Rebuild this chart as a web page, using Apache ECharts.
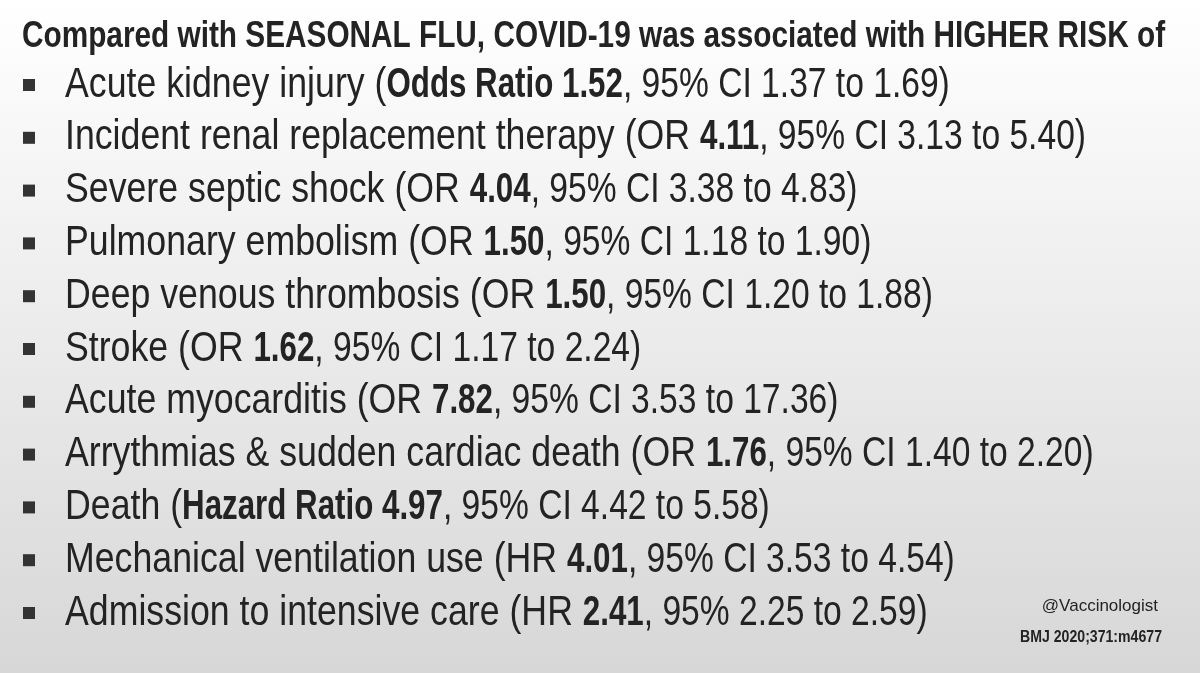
<!DOCTYPE html>
<html><head><meta charset="utf-8">
<script src="https://cdn.jsdelivr.net/npm/echarts@6/dist/echarts.min.js"></script>
<style>html,body{margin:0;padding:0;}#c{width:1200px;height:673px;}</style>
</head><body><div id="c"></div>
<script>
const titleText = 'Compared with SEASONAL FLU, COVID-19 was associated with HIGHER RISK of';
const outcomes = ['Acute kidney injury','Incident renal replacement therapy','Severe septic shock','Pulmonary embolism','Deep venous thrombosis','Stroke','Acute myocarditis','Arrythmias & sudden cardiac death','Death','Mechanical ventilation use','Admission to intensive care'];
const measures = ['Odds Ratio','OR','OR','OR','OR','OR','OR','OR','Hazard Ratio','HR','HR'];
const estimates = [1.52,4.11,4.04,1.50,1.50,1.62,7.82,1.76,4.97,4.01,2.41];
const ciLow = [1.37,3.13,3.38,1.18,1.20,1.17,3.53,1.40,4.42,3.53,2.25];
const ciHigh = [1.69,5.40,4.83,1.90,1.88,2.24,17.36,2.20,5.58,4.54,2.59];
const ciPrefix = ['95% CI','95% CI','95% CI','95% CI','95% CI','95% CI','95% CI','95% CI','95% CI','95% CI','95%'];
const handle = '@Vaccinologist';
const citation = 'BMJ 2020;371:m4677';

const SANS = "'Liberation Sans',Arial,sans-serif";
const COLOR = '#232323';
const FS = 42;
const SCALE_LEAD = 0.85;
const SCALE_BOLD = 0.745;
const SCALE_CI = 0.80;
const BULLET_X = 29;
const TEXT_X = 65;

const ctx = document.createElement('canvas').getContext('2d');
function measure(str, bold){
  ctx.font = (bold ? 'bold ' : '') + FS + 'px ' + SANS;
  return ctx.measureText(str).width;
}

// [text, bold, horizontal condensing]
function segments(i){
  const est = estimates[i].toFixed(2);
  const full = measures[i].length > 2;
  const segs = [[outcomes[i] + ' (', false, SCALE_LEAD]];
  if (full) segs.push([measures[i] + ' ' + est, true, SCALE_BOLD]);
  else { segs.push([measures[i] + ' ', false, SCALE_LEAD]); segs.push([est, true, SCALE_BOLD]); }
  segs.push([', ' + ciPrefix[i] + ' ' + ciLow[i].toFixed(2) + ' to ' + ciHigh[i].toFixed(2) + ')', false, SCALE_CI]);
  return segs;
}

const chart = echarts.init(document.getElementById('c'));
chart.setOption({
  backgroundColor: new echarts.graphic.LinearGradient(0,0,0,1,[{offset:0,color:'#ffffff'},{offset:1,color:'#d7d7d7'}]),
  animation: false,
  graphic: [
    {type:'text', x: 22, y: 37, scaleX: 0.827, style:{text: titleText, fontFamily: SANS, fontWeight:'bold', fontSize: 36, fill: COLOR, verticalAlign:'middle', align:'left'}},
    {type:'text', x: 1158, y: 606, style:{text: handle, fontFamily: SANS, fontSize: 17, fill: COLOR, verticalAlign:'middle', align:'right'}},
    {type:'text', x: 1162, y: 637, scaleX: 0.83, style:{text: citation, fontFamily: SANS, fontWeight:'bold', fontSize: 17, fill: COLOR, verticalAlign:'middle', align:'right'}}
  ],
  grid: {left: 0, right: 0, top: 58.6, bottom: 33.6},
  xAxis: {type:'value', min:0, max:1200, show:false},
  yAxis: {type:'category', data: outcomes, inverse:true, show:false},
  series: [{
    type:'custom',
    data: outcomes.map((o,i)=>[BULLET_X, i]),
    renderItem: function(params, api){
      const i = params.dataIndex;
      const p = api.coord([api.value(0), api.value(1)]);
      const t = api.coord([TEXT_X, api.value(1)]);
      const children = [{type:'rect', shape:{x:p[0]-6, y:p[1]-6, width:12, height:12}, style:{fill:'#333333'}}];
      let x = t[0];
      segments(i).forEach(([str, bold, s]) => {
        children.push({type:'text', x: x, y: t[1], scaleX: s, style:{
          text: str, verticalAlign:'middle', align:'left',
          fontFamily: SANS, fontSize: FS, fontWeight: bold ? 'bold' : 'normal', fill: COLOR
        }});
        x += measure(str, bold) * s;
      });
      return {type:'group', children: children};
    }
  }]
});
</script></body></html>
